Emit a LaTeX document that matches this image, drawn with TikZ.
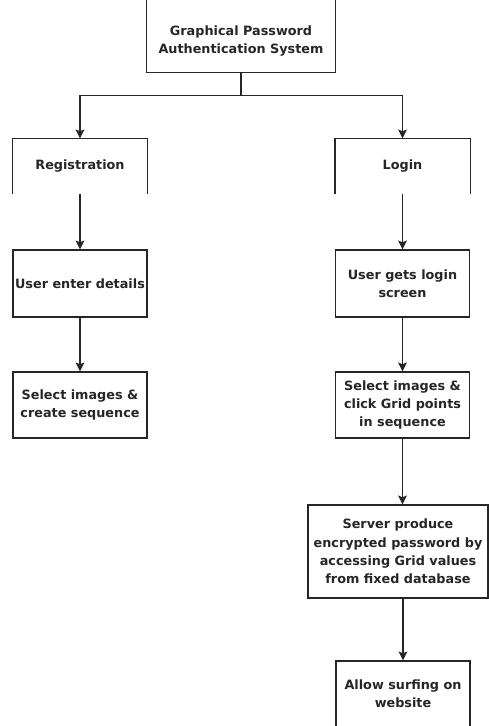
\documentclass[tikz,border=0pt]{standalone}
\usepackage{fontspec}
\setmainfont{DejaVu Sans}
\usetikzlibrary{arrows.meta,calc,positioning}

\begin{document}
\begin{tikzpicture}[x=0.75pt,y=-0.75pt,line width=1.1pt,draw=black!85,
    every node/.style={font=\bfseries\fontsize{9.6}{13.7}\selectfont,text=black!85,align=center,inner sep=0pt},
    openbox/.style={minimum width=100.5pt,minimum height=40.5pt},
    stepbox/.style={draw=black!85,minimum width=100.5pt,minimum height=50.25pt},
    flow/.style={-{Stealth[length=6.5pt,width=6.5pt,inset=1.2pt]}}]
    \useasboundingbox (0,0) rectangle (489,726);
    \clip (0,0) rectangle (489,726);

    % top of the tree
    \node[minimum width=141pt,minimum height=46.5pt] (title) at (241,41) {Graphical Password\\Authentication System};
    \coordinate (edge) at (0,-5);
    \draw (title.west |- edge) -- (title.south west) -- (title.south east) -- (title.east |- edge);

    % the two branches
    \node[openbox] (reg) at (80,166) {Registration};
    \node[openbox] (login) at (402.5,166) {Login};
    \draw (reg.south west) |- (reg.north east) -- (reg.south east);
    \draw (login.south west) |- (login.north east) -- (login.south east);

    \coordinate (fork) at ($(title.south)+(0,23)$);
    \draw (title.south) -- (fork);
    \draw[flow] (fork) -| (reg.north);
    \draw[flow] (fork) -| (login.north);

    % registration steps
    \node[stepbox] (details) at (80,283.5) {User enter details};
    \node[stepbox,minimum height=49.5pt] (seq) at (80,405) {Select images \&\\create sequence};
    \draw[flow] (reg.south) -- (details.north);
    \draw[flow] (details.south) -- (seq.north);

    % login steps
    \node[stepbox] (screen) at (402.5,283.5) {User gets login\\screen};
    \node[stepbox,minimum height=49.5pt] (click) at (402.5,405) {Select images \&\\click Grid points\\in sequence};
    \node[stepbox,minimum width=135pt,minimum height=69.75pt] (server) at (398,551.5) {Server produce\\encrypted password by\\accessing Grid values\\from fixed database};
    \node[stepbox,minimum height=49.5pt] (surf) at (403,694) {Allow surfing on\\website};
    \draw[flow] (login.south) -- (screen.north);
    \draw[flow] (screen.south) -- (click.north);
    \draw[flow] (click.south) -- (click.south |- server.north);
    \draw[flow] (server.south -| surf.north) -- (surf.north);
\end{tikzpicture}
\end{document}
